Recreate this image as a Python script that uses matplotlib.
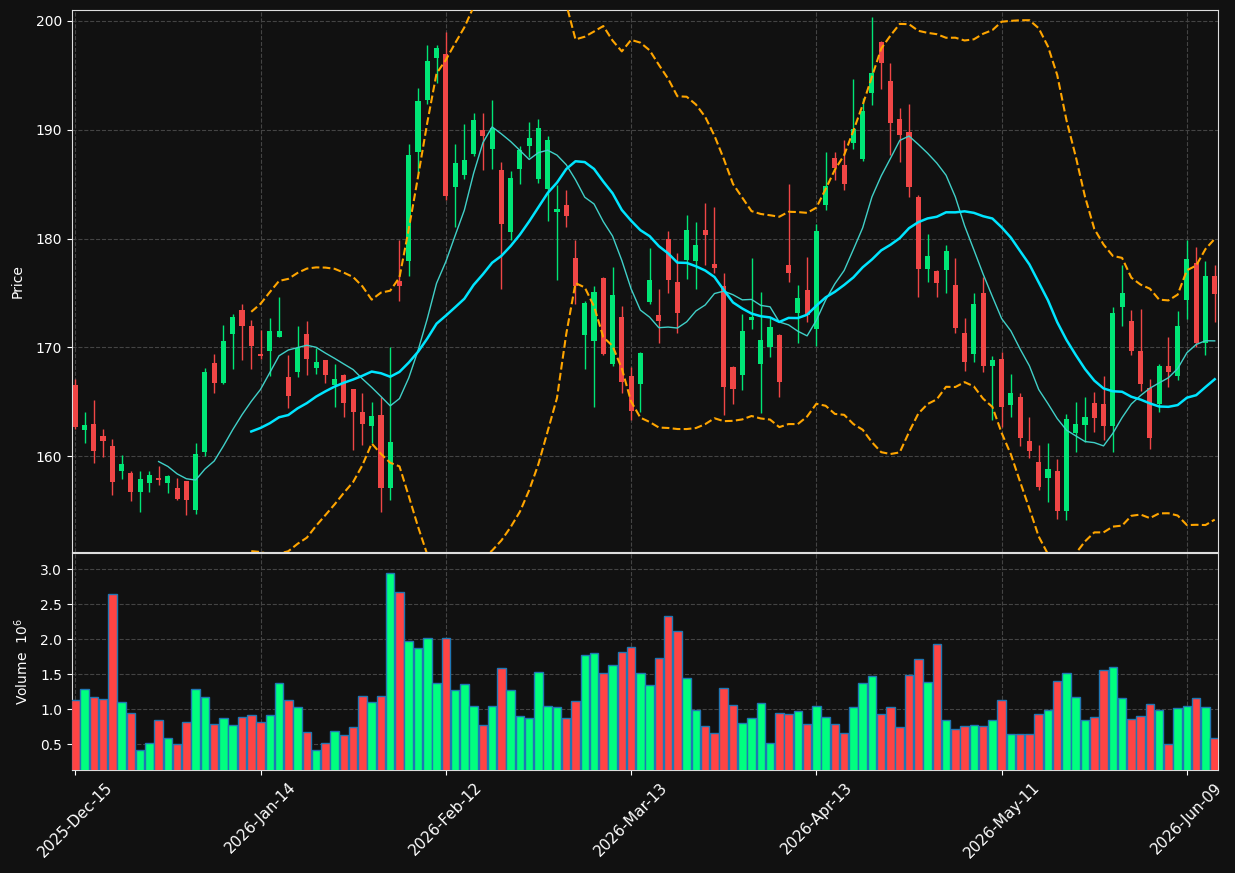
import numpy as np
import pandas as pd
import matplotlib
matplotlib.use("Agg")
import matplotlib.pyplot as plt

# trading days (NYSE holidays skipped)
holidays = ["2025-12-25", "2026-01-01", "2026-01-19", "2026-02-16", "2026-04-03", "2026-05-25"]
dates = pd.bdate_range("2025-12-15", periods=124, freq="C", holidays=holidays)

opens = [166.5, 162.4, 163.0, 161.9, 160.9, 158.6, 158.5, 156.7, 157.5, 158.0,
         157.5, 157.1, 157.7, 155.1, 160.4, 168.6, 166.7, 171.2, 173.4, 172.0,
         169.4, 169.7, 171.0, 167.3, 167.7, 171.2, 168.1, 168.8, 166.5, 167.5,
         166.2, 164.1, 162.8, 163.8, 157.1, 176.1, 177.9, 188.0, 192.7, 196.6,
         197.0, 184.7, 185.8, 187.8, 190.0, 188.2, 186.3, 180.6, 186.4, 188.5,
         185.5, 184.6, 182.4, 183.1, 178.2, 171.1, 170.6, 176.4, 168.5, 172.8,
         167.4, 166.6, 174.2, 173.0, 180.0, 176.0, 178.0, 177.9, 180.8, 177.7,
         175.6, 168.2, 167.5, 172.5, 168.5, 170.0, 171.1, 177.6, 173.2, 175.3,
         171.7, 183.1, 187.4, 186.8, 188.8, 187.3, 193.4, 198.1, 194.5, 191.0,
         189.8, 183.8, 177.2, 177.0, 177.1, 175.7, 171.3, 169.4, 175.0, 168.3,
         168.9, 164.7, 165.4, 161.4, 159.5, 158.0, 158.6, 155.0, 162.1, 162.9,
         164.9, 164.8, 162.8, 173.7, 172.4, 169.7, 166.3, 164.8, 168.3, 167.4,
         174.4, 177.8, 170.4, 176.6]
highs = [167.1, 164.1, 165.2, 162.5, 161.6, 160.1, 158.6, 158.6, 158.6, 159.1,
         158.3, 158.0, 157.7, 161.2, 168.1, 169.4, 172.1, 173.1, 174.0, 172.5,
         171.6, 172.7, 174.6, 169.3, 172.0, 172.4, 169.9, 168.8, 168.5, 167.6,
         166.2, 165.8, 165.0, 165.4, 170.0, 179.9, 188.7, 193.8, 197.8, 197.8,
         199.0, 188.7, 190.5, 191.5, 191.5, 192.7, 187.0, 186.2, 188.5, 190.7,
         191.0, 189.4, 184.9, 184.5, 179.9, 174.3, 175.6, 176.5, 177.4, 173.8,
         168.2, 169.6, 179.1, 175.4, 180.7, 178.7, 182.2, 181.5, 183.3, 182.9,
         176.8, 168.3, 173.1, 178.2, 175.1, 172.7, 171.2, 185.0, 175.7, 178.3,
         181.3, 188.0, 188.0, 189.1, 194.7, 192.9, 200.4, 198.2, 196.1, 192.0,
         192.4, 184.0, 180.4, 177.1, 179.4, 178.2, 172.7, 175.0, 176.5, 169.2,
         169.6, 167.6, 165.8, 163.6, 161.0, 161.2, 159.7, 163.9, 165.0, 165.4,
         165.9, 167.4, 173.7, 177.6, 173.4, 173.5, 167.1, 168.5, 171.0, 173.3,
         179.9, 179.2, 177.9, 177.6]
lows = [162.5, 161.2, 159.4, 159.9, 156.4, 157.9, 155.9, 154.9, 156.7, 157.4,
        156.6, 156.0, 154.6, 154.7, 160.0, 165.8, 166.6, 168.0, 168.8, 168.0,
        168.9, 167.4, 171.0, 164.4, 167.3, 167.5, 167.6, 166.7, 164.5, 163.6,
        160.6, 161.0, 161.2, 154.9, 156.0, 174.3, 176.6, 186.1, 192.4, 194.3,
        183.5, 181.1, 185.5, 187.6, 186.3, 186.4, 175.4, 179.9, 185.0, 187.5,
        185.1, 181.6, 176.2, 181.1, 174.0, 168.0, 164.5, 169.3, 168.3, 165.8,
        163.3, 164.1, 174.0, 170.4, 175.0, 171.3, 176.3, 175.4, 177.6, 176.8,
        163.8, 164.8, 166.1, 171.7, 164.0, 169.1, 165.4, 176.0, 170.4, 172.3,
        170.1, 182.6, 185.4, 184.5, 188.2, 187.1, 192.3, 193.7, 187.7, 187.0,
        183.8, 174.6, 176.0, 174.6, 175.0, 171.3, 167.8, 168.7, 167.7, 163.3,
        162.7, 163.6, 160.9, 159.8, 156.9, 155.8, 154.2, 154.1, 160.4, 161.3,
        162.2, 161.5, 160.4, 172.0, 169.3, 166.0, 160.7, 164.1, 166.4, 167.0,
        172.6, 170.0, 169.3, 172.3]
closes = [162.7, 162.9, 160.5, 161.4, 157.6, 159.3, 156.7, 157.9, 158.3, 157.8,
          158.2, 156.1, 156.0, 160.2, 167.7, 166.7, 170.6, 172.8, 172.0, 170.1,
          169.2, 171.5, 171.5, 165.5, 169.9, 168.9, 168.7, 167.5, 167.1, 164.9,
          164.1, 163.0, 163.7, 157.1, 161.3, 175.6, 187.7, 192.6, 196.3, 197.5,
          183.9, 186.9, 187.2, 190.9, 189.4, 190.2, 181.3, 185.6, 188.1, 189.2,
          190.2, 189.1, 182.7, 182.1, 175.6, 174.1, 175.1, 169.4, 174.8, 166.8,
          164.2, 169.5, 176.2, 172.4, 176.2, 173.2, 180.8, 179.4, 180.3, 177.3,
          166.4, 166.2, 171.5, 172.8, 170.7, 171.9, 166.8, 176.8, 174.5, 173.0,
          180.7, 184.8, 186.5, 185.0, 190.1, 191.7, 195.2, 196.1, 190.6, 189.5,
          184.7, 177.2, 178.4, 175.9, 178.9, 171.8, 168.7, 174.0, 168.3, 168.8,
          164.5, 165.8, 161.7, 160.5, 157.2, 158.8, 155.0, 163.4, 163.0, 163.6,
          163.5, 162.8, 173.2, 175.0, 169.7, 166.6, 161.7, 168.3, 167.7, 172.0,
          178.1, 170.4, 176.6, 174.9]
# volume in millions
volumes = [1.129, 1.286, 1.171, 1.143, 2.643, 1.100, 0.943, 0.414, 0.514, 0.843,
           0.586, 0.500, 0.814, 1.286, 1.171, 0.786, 0.871, 0.771, 0.886, 0.914,
           0.814, 0.914, 1.371, 1.129, 1.029, 0.671, 0.414, 0.514, 0.686, 0.629,
           0.743, 1.186, 1.100, 1.186, 2.943, 2.671, 1.971, 1.871, 2.014, 1.371,
           2.014, 1.271, 1.357, 1.043, 0.771, 1.043, 1.586, 1.271, 0.900, 0.871,
           1.529, 1.043, 1.029, 0.871, 1.114, 1.771, 1.800, 1.514, 1.629, 1.814,
           1.886, 1.514, 1.343, 1.729, 2.329, 2.114, 1.443, 0.986, 0.757, 0.657,
           1.300, 1.057, 0.800, 0.871, 1.086, 0.514, 0.943, 0.929, 0.971, 0.786,
           1.043, 0.886, 0.786, 0.657, 1.029, 1.371, 1.471, 0.929, 1.029, 0.743,
           1.486, 1.714, 1.386, 1.929, 0.843, 0.714, 0.757, 0.771, 0.757, 0.843,
           1.129, 0.643, 0.643, 0.643, 0.929, 0.986, 1.400, 1.514, 1.171, 0.843,
           0.886, 1.557, 1.600, 1.157, 0.857, 0.900, 1.071, 0.986, 0.500, 1.014,
           1.043, 1.157, 1.029, 0.586]

BG = "#111111"
UP = "#00e676"
DOWN = "#f04646"
VUP = "#00ff7f"
VDOWN = "#ff4444"
GRID = "#444444"

x = np.arange(len(dates))
o = np.array(opens); h = np.array(highs); l = np.array(lows); c = np.array(closes)
up = c >= o

cs = pd.Series(closes)
ma10 = cs.rolling(10).mean()
ma20 = cs.rolling(20).mean()
sd20 = cs.rolling(20).std(ddof=0)
bb_up = ma20 + 2 * sd20
bb_lo = ma20 - 2 * sd20

fig = plt.figure(figsize=(12.35, 8.73), dpi=100, facecolor=BG)
ax = fig.add_axes([0.0583, 0.3677, 0.9279, 0.6208], facecolor=BG)
axv = fig.add_axes([0.0583, 0.118, 0.9279, 0.2485], facecolor=BG, sharex=ax)

# candles
ccol = np.where(up, UP, DOWN)
ax.vlines(x, l, h, colors=ccol, linewidth=1, zorder=2)
ax.bar(x, np.abs(c - o), bottom=np.minimum(o, c), width=0.55, color=ccol, linewidth=0, zorder=3)

# moving averages and bands
ax.plot(x, ma10, color="#40d0c8", linewidth=1, zorder=4)
ax.plot(x, ma20, color="#00e5ff", linewidth=1.8, zorder=4)
ax.plot(x, bb_up, color="#ffa500", linestyle="--", linewidth=1.5, zorder=4)
ax.plot(x, bb_lo, color="#ffa500", linestyle="--", linewidth=1.5, zorder=4)

# volume
vcol = np.where(up, VUP, VDOWN)
axv.bar(x, volumes, width=0.92, color=vcol, edgecolor="#1f77b4", linewidth=1, zorder=3)

ax.set_xlim(-0.35, 123.35)
ax.set_ylim(151.2, 201.0)
axv.set_ylim(0.13, 3.23)
ax.set_yticks([160, 170, 180, 190, 200])
axv.set_yticks([0.5, 1.0, 1.5, 2.0, 2.5, 3.0])

ticks = list(range(0, len(dates), 20))
axv.set_xticks(ticks)
axv.set_xticklabels([dates[i].strftime("%Y-%b-%d") for i in ticks], rotation=45, ha="center")
ax.tick_params(axis="x", labelbottom=False, length=0)

for a in (ax, axv):
    a.grid(True, linestyle="--", color=GRID, linewidth=0.8, zorder=0)
    a.set_axisbelow(True)
    a.tick_params(colors="white", labelsize=10)
    for s in a.spines.values():
        s.set_color("#dddddd")
axv.tick_params(axis="x", labelsize=11)

ax.set_ylabel("Price", color="white", fontsize=10, labelpad=8)
axv.set_ylabel("Volume  $10^{6}$", color="white", fontsize=10, labelpad=7)

fig.savefig("out.png", dpi=100, facecolor=BG)
